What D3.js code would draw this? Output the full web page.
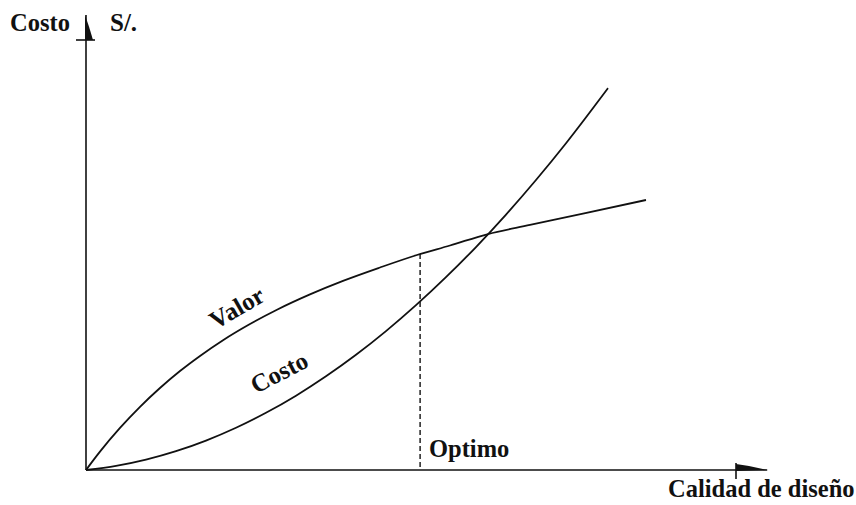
<!DOCTYPE html>
<html>
<head>
<meta charset="utf-8">
<script src="https://cdn.jsdelivr.net/npm/d3@7"></script>
<style>
  html, body { margin: 0; padding: 0; background: #fff; }
  svg { display: block; }
  text { font-family: "Liberation Serif", "Times New Roman", serif; fill: #111; font-weight: bold; }
</style>
</head>
<body>
<svg id="chart" width="856" height="505"></svg>
<script>
// ---- data (abstract units: 0..100 on each axis) ----
const valorX = [0, 1.08, 2.15, 5.23, 8.31, 11.38, 14.46, 17.54, 21.08, 25.23, 29.38, 34.46, 39.54, 45.23, 50.92, 56.0, 61.85, 68.31, 76.46, 86.15];
const valorY = [0, 2.19, 4.28, 9.79, 14.7, 19.07, 23.02, 26.53, 30.19, 33.95, 37.28, 40.84, 43.98, 47.09, 50.0, 52.21, 54.88, 56.98, 59.65, 62.79];
const costoX = [0, 4.62, 9.23, 13.85, 18.46, 23.08, 27.69, 32.31, 36.92, 41.54, 46.15, 50.77, 55.38, 60.0, 64.62, 69.23, 73.85, 80.31];
const costoY = [0, 0.95, 2.41, 4.37, 6.84, 9.82, 13.30, 17.29, 21.79, 26.79, 32.30, 38.33, 44.84, 51.86, 59.40, 67.44, 76.0, 88.81];
const optimoX = 51.4;
const axisTick = 100;
const xAxisEnd = 104.8;
const yAxisEnd = 105.8;
const labels = {
  yTitle: "Costo",
  yUnit: "S/.",
  xTitle: "Calidad de diseño",
  optimo: "Optimo",
  valor: "Valor",
  costo: "Costo"
};

// ---- layout ----
const svg = d3.select("#chart");
const x = d3.scaleLinear().domain([0, 100]).range([86, 736]);
const y = d3.scaleLinear().domain([0, 100]).range([470, 40]);
const ink = "#111";

// axes
svg.append("line")
  .attr("x1", x(0)).attr("y1", y(0)).attr("x2", x(xAxisEnd)).attr("y2", y(0))
  .attr("stroke", ink).attr("stroke-width", 1.6);
svg.append("line")
  .attr("x1", x(0)).attr("y1", y(0)).attr("x2", x(0)).attr("y2", y(yAxisEnd))
  .attr("stroke", ink).attr("stroke-width", 1.6);

// tick marks at the axis ends
svg.append("line")
  .attr("x1", x(axisTick)).attr("x2", x(axisTick))
  .attr("y1", y(0) - 7).attr("y2", y(0) + 9)
  .attr("stroke", ink).attr("stroke-width", 1.6);
svg.append("line")
  .attr("x1", x(0) - 10).attr("x2", x(0) + 9)
  .attr("y1", y(axisTick)).attr("y2", y(axisTick))
  .attr("stroke", ink).attr("stroke-width", 1.6);

// arrow heads (half-arrow shapes)
svg.append("path")
  .attr("d", `M${x(axisTick)},${y(0) - 6} Q${x(axisTick) + 16},${y(0) - 4} ${x(xAxisEnd)},${y(0)} L${x(axisTick)},${y(0) + 1} Z`)
  .attr("fill", ink);
svg.append("path")
  .attr("d", `M${x(0) - 1},${y(yAxisEnd)} Q${x(0) + 3},${y(axisTick) - 14} ${x(0) + 7},${y(axisTick)} L${x(0) - 1},${y(axisTick)} Z`)
  .attr("fill", ink);

// curves
const line = d3.line().x(d => x(d[0])).y(d => y(d[1])).curve(d3.curveMonotoneX);
svg.append("path")
  .datum(valorX.map((v, i) => [v, valorY[i]]))
  .attr("d", line).attr("fill", "none").attr("stroke", ink).attr("stroke-width", 1.8);
svg.append("path")
  .datum(costoX.map((v, i) => [v, costoY[i]]))
  .attr("d", line).attr("fill", "none").attr("stroke", ink).attr("stroke-width", 1.8);

// optimum dashed line
const valorAtOpt = d3.scaleLinear().domain(valorX).range(valorY)(optimoX);
svg.append("line")
  .attr("x1", x(optimoX)).attr("x2", x(optimoX))
  .attr("y1", y(valorAtOpt)).attr("y2", y(0))
  .attr("stroke", ink).attr("stroke-width", 1.4).attr("stroke-dasharray", "5,3");

// texts
svg.append("text").attr("x", 10).attr("y", 31).style("font-size", "24.5px").text(labels.yTitle);
svg.append("text").attr("x", 110).attr("y", 31).style("font-size", "25px").text(labels.yUnit);
svg.append("text").attr("x", 668).attr("y", 497).style("font-size", "24.5px").text(labels.xTitle);
svg.append("text").attr("x", 429).attr("y", 457).style("font-size", "24.5px").text(labels.optimo);

svg.append("text")
  .attr("text-anchor", "middle").style("font-size", "25px")
  .attr("transform", "translate(241,315) rotate(-30)")
  .text(labels.valor);
svg.append("text")
  .attr("text-anchor", "middle").style("font-size", "25px")
  .attr("transform", "translate(283,380) rotate(-27.5)")
  .text(labels.costo);
</script>
</body>
</html>
